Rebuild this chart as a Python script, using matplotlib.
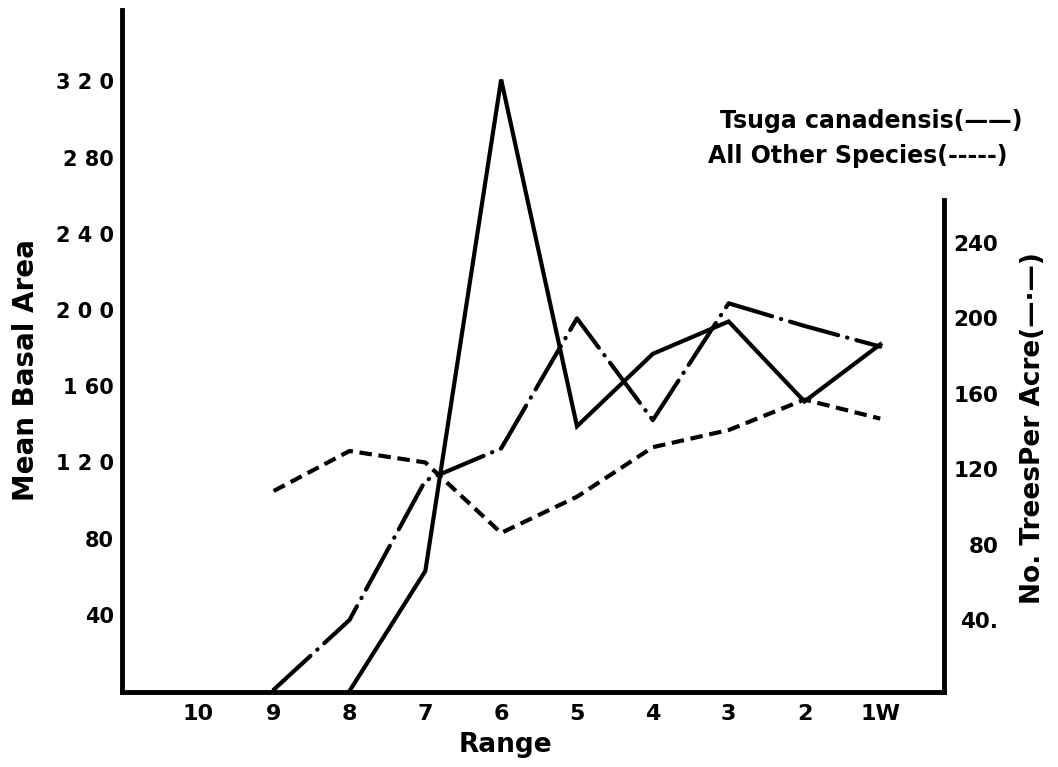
import numpy as np
import matplotlib
matplotlib.use('Agg')
import matplotlib.pyplot as plt

# Range (x categories)
ranges = ['10', '9', '8', '7', '6', '5', '4', '3', '2', '1W']

# Mean basal area, left axis
tsuga_basal = [np.nan, np.nan, 0, 63, 321, 139, 177, 194, 152, 182]
other_basal = [np.nan, 105, 126, 120, 83, 102, 128, 137, 153, 143]

# No. trees per acre, right axis
trees_per_acre = [np.nan, 3, 40, 114, 131, 200, 146, 208, 196, 185]

left_ticks = [40, 80, 120, 160, 200, 240, 280, 320]
left_ticklabels = ['40', '80', '1 2 0', '1 60', '2 0 0', '2 4 0', '2 80', '3 2 0']
right_ticks = [40, 80, 120, 160, 200, 240]
right_ticklabels = ['40.', '80', '120', '160', '200', '240']

plt.rcParams['font.family'] = 'DejaVu Sans'
plt.rcParams['font.weight'] = 'bold'

fig = plt.figure(figsize=(10.58, 7.67), dpi=100)
ax = fig.add_axes([122 / 1058, 1 - 692 / 767, 822 / 1058, 682 / 767])
ax2 = ax.twinx()

x = np.arange(len(ranges))
lw = 3.0

ax.plot(x, tsuga_basal, color='black', lw=lw, solid_joinstyle='miter')
ax.plot(x, other_basal, color='black', lw=lw, dashes=(3.0, 1.6),
        dash_capstyle='butt')
ax2.plot(x, trees_per_acre, color='black', lw=lw,
         dashes=(12, 2.2, 0.1, 2.2), dash_capstyle='round')

ax.set_xlim(-1.0, 9.84)
ax.set_ylim(-0.5, 357.5)
ax2.set_ylim(1.8, 363.6)

for a in (ax, ax2):
    for s in a.spines.values():
        s.set_linewidth(3.5)
    a.spines['top'].set_visible(False)
ax.spines['right'].set_visible(False)
ax2.spines['left'].set_visible(False)
ax2.spines['bottom'].set_visible(False)
ax2.spines['right'].set_bounds(1.8, 262.8)

ax.set_xticks(x)
ax.set_xticklabels(ranges, fontsize=16, fontweight='bold')
ax.set_yticks(left_ticks)
ax.set_yticklabels(left_ticklabels, fontsize=15, fontweight='bold')
ax.tick_params(axis='both', length=0)
ax.tick_params(axis='x', pad=9)
ax.tick_params(axis='y', pad=6)

ax2.set_yticks(right_ticks)
ax2.set_yticklabels(right_ticklabels, fontsize=15.5, fontweight='bold', ha='right')
ax2.tick_params(axis='y', length=0, pad=39)

ax.set_xlabel('Range', fontsize=19, fontweight='bold')
ax.xaxis.set_label_coords(0.466, -0.058)
ax.set_ylabel('Mean Basal Area', fontsize=20, fontweight='bold')
ax.yaxis.set_label_coords(-0.1, 0.472)
ax2.set_ylabel('No. TreesPer Acre(—·—)', fontsize=19, fontweight='bold')
ax2.yaxis.set_label_coords(1.092, 0.387)

fig.text(1022 / 1058, 1 - 121 / 767, 'Tsuga canadensis(——)', ha='right',
         va='center', fontsize=17, fontweight='bold')
fig.text(1007 / 1058, 1 - 156 / 767, 'All Other Species(-----)', ha='right',
         va='center', fontsize=17, fontweight='bold')

fig.savefig('out.png', dpi=100)
